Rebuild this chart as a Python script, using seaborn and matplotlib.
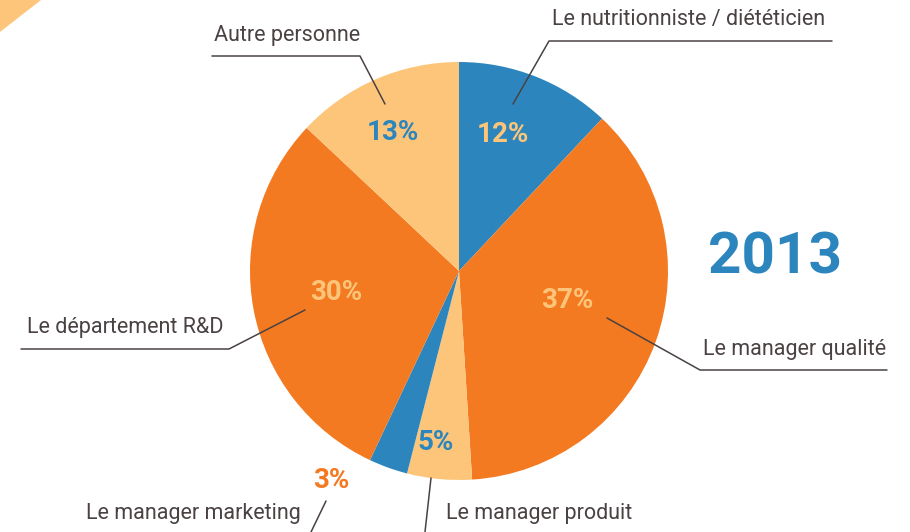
import matplotlib
matplotlib.use("Agg")
import matplotlib.pyplot as plt
import seaborn as sns

# data, clockwise from the top
categories = ["Le nutritionniste / diététicien", "Le manager qualité", "Le manager produit",
              "Le manager marketing", "Le département R&D", "Autre personne"]
shares = [12, 37, 5, 3, 30, 13]
pct_labels = ["12%", "37%", "5%", "3%", "30%", "13%"]
year = "2013"

sns.set_theme(style="white")
plt.rcParams['font.family'] = ['Roboto', 'DejaVu Sans']

blue = "#2c86bd"
orange = "#f47a22"
light = "#fdc57a"
ink = "#4a4242"
slice_colors = [blue, orange, light, blue, orange, light]
pct_colors = [light, light, blue, orange, light, blue]

fig = plt.figure(figsize=(9.1, 5.32), dpi=100)
ax = fig.add_axes([0, 0, 1, 1])

# pixel-like coordinates, y pointing down
cx, cy, r = 459, 271, 209
ax.pie(shares, colors=slice_colors, startangle=-90, counterclock=True,
       center=(cx, cy), radius=r, wedgeprops=dict(linewidth=0))
ax.set_xlim(0, 910)
ax.set_ylim(532, 0)
ax.set_aspect("auto")
ax.axis("off")

# corner triangle
ax.fill([0, 41, 0], [0, 0, 32], color=light, lw=0)

# percentage labels
pct_pos = [(503, 135), (567, 300), (436, 443), (331, 480), (336, 292), (393, 132)]
for txt, (x, y), c in zip(pct_labels, pct_pos, pct_colors):
    ax.text(x, y, txt, color=c, fontsize=20, fontweight="bold", ha="center", va="center")

# category labels with leader lines
text_pos = [(689, 19), (795, 349), (539, 514), (193, 514), (125, 327), (287, 35)]
leaders = [
    [(832, 41), (549, 41), (513, 104)],
    [(887, 370), (700, 370), (607, 318)],
    [(431, 478), (425, 532)],
    [(326, 501), (311, 532)],
    [(21, 349), (229, 349), (305, 310)],
    [(212, 56), (360, 56), (385, 104)],
]
for name, (x, y), pts in zip(categories, text_pos, leaders):
    ax.text(x, y, name, color=ink, fontsize=15.5, ha="center", va="center")
    xs, ys = zip(*pts)
    ax.plot(xs, ys, color=ink, lw=1.1)

ax.text(775, 258, year, color=blue, fontsize=42, fontweight="bold", ha="center", va="center")

fig.savefig("out.png", dpi=100)
